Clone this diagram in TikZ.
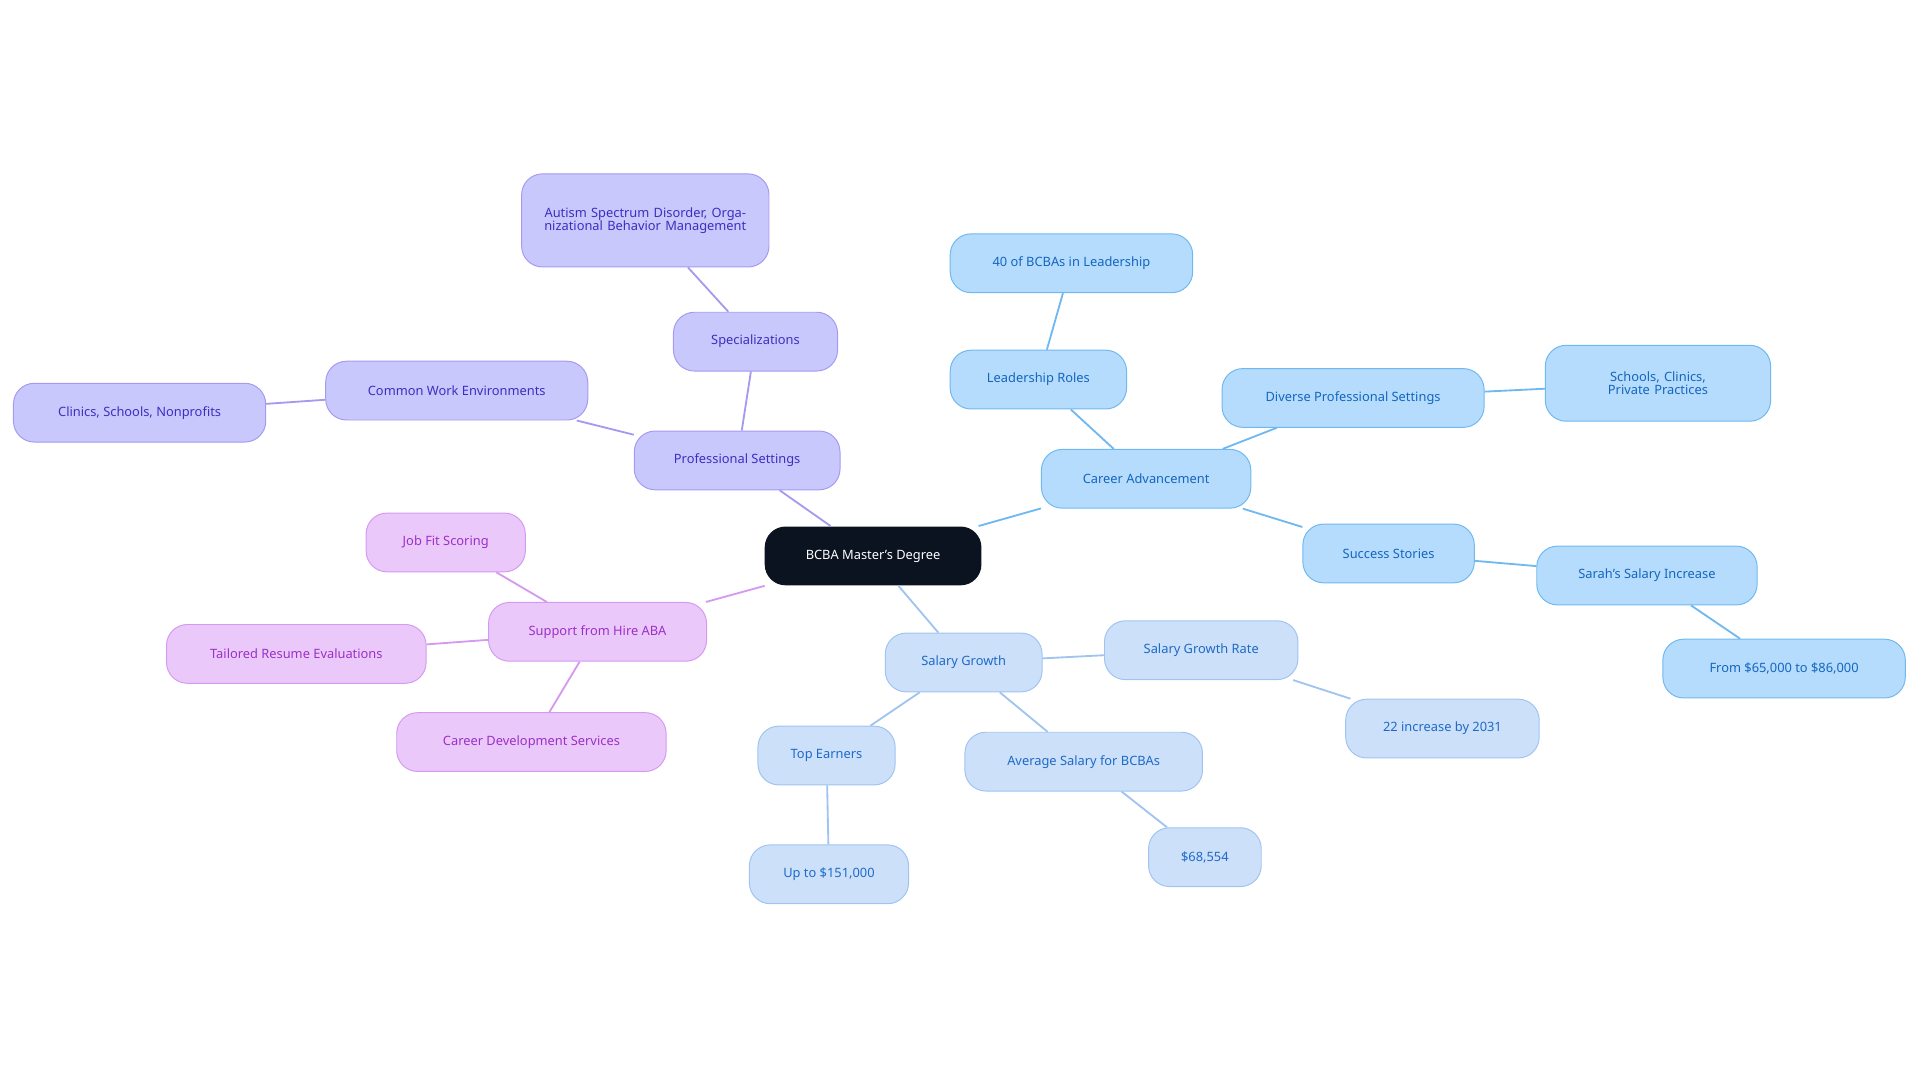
\documentclass[tikz,border=0pt]{standalone}
\usepackage{fontspec}
\setmainfont{Noto Sans}
\definecolor{pf}{HTML}{C8C8FC}\definecolor{pd}{HTML}{A59AF0}\definecolor{pt}{HTML}{3C2FC0}
\definecolor{kf}{HTML}{EBC8FA}\definecolor{kd}{HTML}{D59AF0}\definecolor{kt}{HTML}{9B30C8}
\definecolor{bf}{HTML}{B5DCFC}\definecolor{bd}{HTML}{70B8F0}\definecolor{bt}{HTML}{1565C0}
\definecolor{lf}{HTML}{CCE0FA}\definecolor{ld}{HTML}{A0C4F0}\definecolor{lt}{HTML}{1E6AC8}
\definecolor{rootc}{HTML}{0B1220}
\tikzset{
 box/.style={rounded corners=17pt,minimum height=48pt,align=center,font=\fontsize{10.5}{11}\selectfont,inner sep=2pt,line width=0.8pt},
 pbox/.style={box,fill=pf,draw=pd,text=pt},
 kbox/.style={box,fill=kf,draw=kd,text=kt},
 bbox/.style={box,fill=bf,draw=bd,text=bt},
 lbox/.style={box,fill=lf,draw=ld,text=lt},
 pe/.style={draw=pd,line width=1.5pt},
 ke/.style={draw=kd,line width=1.5pt},
 be/.style={draw=bd,line width=1.5pt},
 le/.style={draw=ld,line width=1.5pt},
}
\begin{document}
\begin{tikzpicture}[x=1pt,y=-1pt]
\useasboundingbox (0,0) rectangle (1568,884);
\node[box,fill=rootc,text=white,minimum width=177pt] (root) at (713,454) {BCBA Master's Degree};
\node[pbox,minimum width=168pt] (ps) at (602,376) {Professional Settings};
\node[pbox,minimum width=134pt] (sp) at (617,279) {Specializations};
\node[pbox,minimum width=202pt,minimum height=76pt,text width=180pt] (au) at (527,180) {Autism Spectrum Disorder, Organizational Behavior Management};
\node[pbox,minimum width=214pt] (cw) at (373,319) {Common Work Environments};
\node[pbox,minimum width=206pt] (cs) at (114,337) {Clinics, Schools, Nonprofits};
\node[kbox,minimum width=178pt] (sh) at (488,516) {Support from Hire ABA};
\node[kbox,minimum width=130pt] (jf) at (364,443) {Job Fit Scoring};
\node[kbox,minimum width=212pt] (tr) at (242,534) {Tailored Resume Evaluations};
\node[kbox,minimum width=220pt] (cd) at (434,606) {Career Development Services};
\node[bbox,minimum width=171pt] (ca) at (936,391) {Career Advancement};
\node[bbox,minimum width=144pt] (lr) at (848,310) {Leadership Roles};
\node[bbox,minimum width=198pt] (fo) at (875,215) {40 of BCBAs in Leadership};
\node[bbox,minimum width=214pt] (dp) at (1105,325) {Diverse Professional Settings};
\node[bbox,minimum width=184pt,minimum height=62pt,text width=160pt] (sc) at (1354,313) {Schools, Clinics, Private Practices};
\node[bbox,minimum width=140pt] (ss) at (1134,452) {Success Stories};
\node[bbox,minimum width=180pt] (sa) at (1345,470) {Sarah's Salary Increase};
\node[bbox,minimum width=198pt] (fr) at (1457,546) {From \$65,000 to \$86,000};
\node[lbox,minimum width=128pt] (sg) at (787,541) {Salary Growth};
\node[lbox,minimum width=158pt] (sr) at (981,531) {Salary Growth Rate};
\node[lbox,minimum width=158pt] (tw) at (1178,595) {22 increase by 2031};
\node[lbox,minimum width=194pt] (av) at (885,622) {Average Salary for BCBAs};
\node[lbox,minimum width=92pt] (sx) at (984,700) {\$68,554};
\node[lbox,minimum width=112pt] (te) at (675,617) {Top Earners};
\node[lbox,minimum width=130pt] (up) at (677,714) {Up to \$151,000};
\begin{scope}[on background layer/.style={}]
\end{scope}
\path[pe] (root) -- (ps) (ps) -- (sp) (sp) -- (au) (ps) -- (cw) (cw) -- (cs);
\path[ke] (root) -- (sh) (sh) -- (jf) (sh) -- (tr) (sh) -- (cd);
\path[be] (root) -- (ca) (ca) -- (lr) (lr) -- (fo) (ca) -- (dp) (dp) -- (sc) (ca) -- (ss) (ss) -- (sa) (sa) -- (fr);
\path[le] (root) -- (sg) (sg) -- (sr) (sr) -- (tw) (sg) -- (av) (av) -- (sx) (sg) -- (te) (te) -- (up);
\end{tikzpicture}
\end{document}
